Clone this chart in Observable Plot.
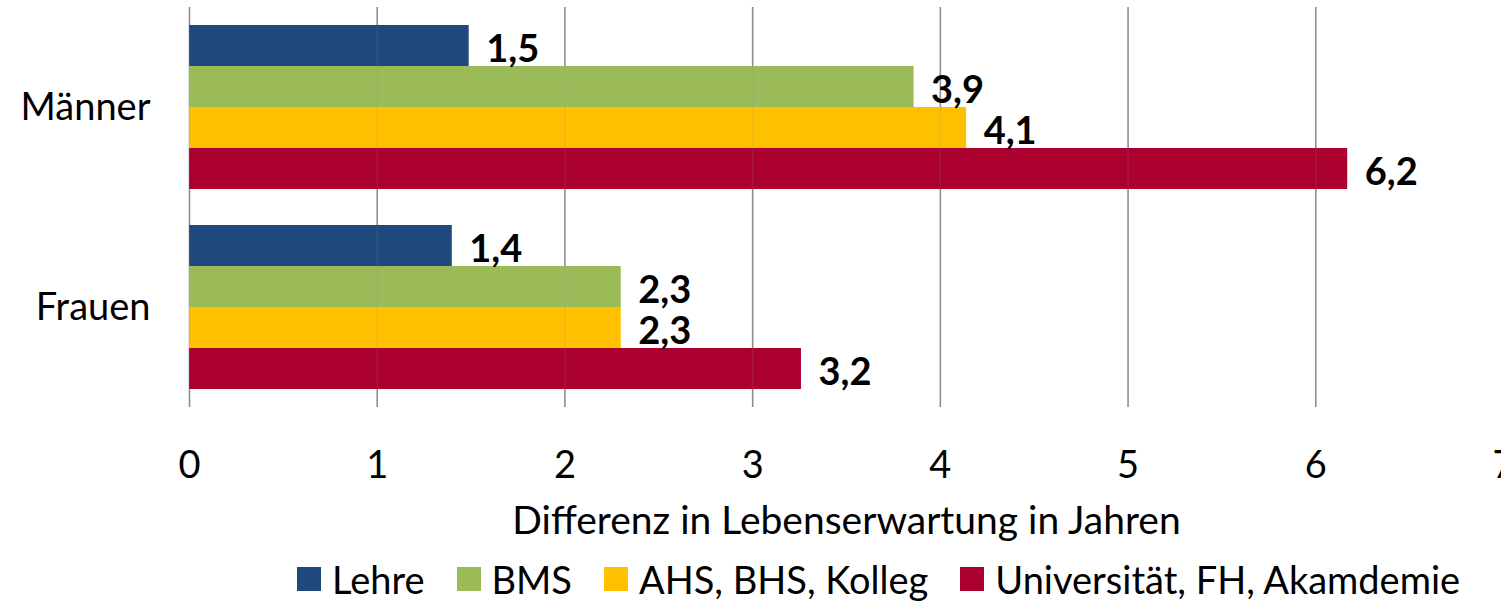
<!DOCTYPE html>
<html>
<head>
<meta charset="utf-8">
<script src="https://cdn.jsdelivr.net/npm/d3@7"></script>
<script src="https://cdn.jsdelivr.net/npm/@observablehq/plot@0.6"></script>
<style>
  html, body { margin: 0; padding: 0; background: #fff; }
  body { width: 1501px; height: 602px; overflow: hidden; font-family: Lato, "Open Sans", sans-serif; }
  #legend { display: flex; align-items: center; margin-left: 297px; margin-top: 9px; height: 40px; font-size: 38px; line-height: 40px; color: #000; white-space: nowrap; }
  .item { display: flex; align-items: center; margin-right: 32px; }
  .sw { width: 24px; height: 24px; margin-right: 11px; flex: none; }
</style>
</head>
<body>
<div id="chart"></div>
<div id="legend"></div>
<script>
const groups = ["Männer", "Frauen"];
const categories = ["Lehre", "BMS", "AHS, BHS, Kolleg", "Universität, FH, Akamdemie"];
const colors = ["#1F497D", "#9BBB59", "#FFC000", "#AC0030"];
const maennerValues = [1.49, 3.86, 4.14, 6.17];
const frauenValues = [1.40, 2.30, 2.30, 3.26];
const maennerLabels = ["1,5", "3,9", "4,1", "6,2"];
const frauenLabels = ["1,4", "2,3", "2,3", "3,2"];
const xTicks = [0, 1, 2, 3, 4, 5, 6, 7];
const xTitle = "Differenz in Lebenserwartung in Jahren";

const data = [];
categories.forEach((c, i) => data.push({group: groups[0], cat: c, value: maennerValues[i], label: maennerLabels[i]}));
categories.forEach((c, i) => data.push({group: groups[1], cat: c, value: frauenValues[i], label: frauenLabels[i]}));

const chart = Plot.plot({
  width: 1501,
  height: 550,
  marginTop: 7,
  marginBottom: 143,
  marginLeft: 189,
  marginRight: -2,
  style: {fontFamily: "Lato, 'Open Sans', sans-serif", fontSize: "38px", color: "#000", background: "#fff", overflow: "hidden"},
  x: {domain: [0, 7], ticks: xTicks, tickSize: 0, tickPadding: 44, label: null, tickFormat: d => String(d)},
  fy: {domain: groups, padding: 0, label: null, axis: "left", tickSize: 0, tickPadding: 39, fontSize: 40},
  y: {domain: categories, paddingInner: 0, paddingOuter: 0.381, axis: null},
  color: {domain: categories, range: colors},
  marks: [
    Plot.gridX(xTicks, {stroke: "#8c8c8c", strokeOpacity: 1, strokeWidth: 1.5}),
    Plot.barX(data, {fy: "group", y: "cat", x: "value", fill: "cat", insetTop: 0, insetBottom: 0}),
    Plot.gridX(xTicks, {stroke: "#8c8c8c", strokeOpacity: 0.15, strokeWidth: 1.5}),
    Plot.text(data, {fy: "group", y: "cat", x: "value", text: "label", textAnchor: "start", dx: 17, dy: 4, fontWeight: "bold", fontSize: 38, fill: "#000"}),
    Plot.text([xTitle], {frameAnchor: "bottom", dy: 126, fontSize: 39, fill: "#000", facetAnchor: "bottom"})
  ]
});
document.getElementById("chart").appendChild(chart);

const legend = document.getElementById("legend");
categories.forEach((c, i) => {
  const item = document.createElement("div");
  item.className = "item";
  const sw = document.createElement("div");
  sw.className = "sw";
  sw.style.background = colors[i];
  const t = document.createElement("span");
  t.textContent = c;
  item.appendChild(sw);
  item.appendChild(t);
  legend.appendChild(item);
});
</script>
</body>
</html>
